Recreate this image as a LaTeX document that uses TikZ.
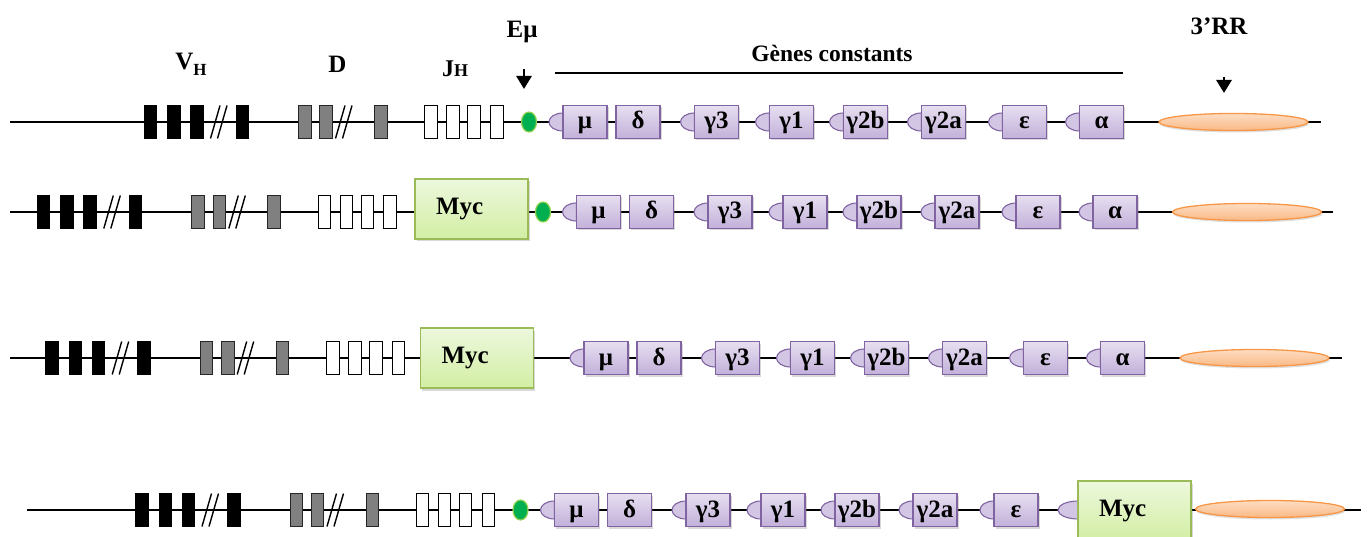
\documentclass[tikz,border=0pt]{standalone}
\usepackage{fontspec}
\setmainfont{Liberation Serif}
\usetikzlibrary{shadows,calc,arrows.meta,shapes.geometric}
\pgfdeclarelayer{bg}
\pgfsetlayers{bg,main}
\definecolor{purp}{HTML}{8064A2}
\definecolor{lavtop}{HTML}{E7DFF1}
\definecolor{lavbot}{HTML}{C2B0D9}
\definecolor{swfill}{HTML}{D3C6E4}
\definecolor{grnb}{HTML}{9BBB59}
\definecolor{grntop}{HTML}{EDF8DD}
\definecolor{grnbot}{HTML}{D2EEA3}
\definecolor{orb}{HTML}{F79646}
\definecolor{ortop}{HTML}{FDDDC2}
\definecolor{orbot}{HTML}{F9B986}
\definecolor{emfill}{HTML}{00B050}
\definecolor{emb}{HTML}{92D050}
\definecolor{grayseg}{HTML}{808080}
\tikzset{
  backbone/.style={line width=1.4pt, black},
  segbase/.style={rectangle, minimum width=12.5pt, minimum height=33pt, inner sep=0pt},
  vseg/.style={segbase, fill=black, draw=black, line width=0.4pt},
  dseg/.style={segbase, fill=grayseg, draw=black!85, line width=0.8pt},
  jseg/.style={segbase, fill=white, draw=black, line width=0.8pt},
  slash/.style={line width=1.4pt, black},
  gene/.style={rectangle, draw=purp, line width=1.3pt, top color=lavtop, bottom color=lavbot,
    minimum width=44pt, minimum height=33pt, inner sep=0pt, text height=16pt, text depth=2pt,
    font=\fontsize{25}{25}\selectfont\bfseries,
    drop shadow={opacity=0.3, shadow xshift=1.5pt, shadow yshift=-2pt}},
  switchreg/.style={draw=purp, line width=1.1pt, fill=swfill},
  myc/.style={rectangle, draw=grnb, line width=1.3pt, top color=grntop, bottom color=grnbot,
    minimum height=60pt, inner ysep=0pt, inner xsep=21pt, text width=71pt, align=left,
    font=\fontsize{25}{25}\selectfont\bfseries,
    drop shadow={opacity=0.3, shadow xshift=1.5pt, shadow yshift=-2.5pt}},
  rrell/.style={ellipse, draw=orb, line width=1.3pt, top color=ortop, bottom color=orbot,
    minimum width=149pt, minimum height=17pt, inner sep=0pt,
    drop shadow={opacity=0.25, shadow xshift=1pt, shadow yshift=-2pt}},
  emu/.style={ellipse, fill=emfill, draw=emb, line width=1.2pt, minimum width=15pt, minimum height=20pt, inner sep=0pt},
  lab/.style={font=\fontsize{25}{25}\selectfont\bfseries, inner sep=0pt, anchor=base},
  darrow/.style={-{Triangle[width=15pt,length=13pt]}, line width=2.8pt},
}
\newcommand\VDJrow[3]{%
 \begin{scope}[xshift=#2pt]
  \node[vseg] (#1v1) at (150,#3) {};
  \node[vseg] (#1v2) at (173.5,#3) {};
  \node[vseg] (#1v3) at (196.5,#3) {};
  \node[vseg] (#1v4) at (242,#3) {};
  \draw[slash] (210.5,#3+16.5) -- (220,#3-16.5) (217.5,#3+16.5) -- (227,#3-16.5);
  \node[dseg] (#1d1) at (304.7,#3) {};
  \node[dseg] (#1d2) at (326,#3) {};
  \draw[slash] (335.5,#3+16.5) -- (345,#3-16.5) (342.5,#3+16.5) -- (352,#3-16.5);
  \node[dseg] (#1d3) at (380.7,#3) {};
  \node[jseg] (#1j1) at (431,#3) {};
  \node[jseg] (#1j2) at (453,#3) {};
  \node[jseg] (#1j3) at (474,#3) {};
  \node[jseg] (#1j4) at (496.7,#3) {};
 \end{scope}}
\newcommand\GeneSw[4]{%
  \begin{pgfonlayer}{bg}
  \draw[switchreg] (#2-22,#3-9) arc[start angle=270,end angle=90,x radius=14,y radius=9] -- cycle;
  \end{pgfonlayer}
  \node[gene] (#1) at (#2,#3) {#4};}
\newcommand\GeneNo[4]{\node[gene] (#1) at (#2,#3) {#4};}
\newcommand\GeneRow[3]{%
 \begin{scope}[xshift=#2pt]
  \GeneSw{#1mu}{585}{#3}{μ}
  \GeneNo{#1de}{638}{#3}{δ}
  \GeneSw{#1gt}{716.5}{#3}{γ3}
  \GeneSw{#1go}{791.5}{#3}{γ1}
  \GeneSw{#1gb}{865.5}{#3}{γ2b}
  \GeneSw{#1ga}{943.5}{#3}{γ2a}
  \GeneSw{#1ep}{1024.5}{#3}{ε}
 \end{scope}}
\begin{document}
\begin{tikzpicture}[x=1pt,y=-1pt]
\useasboundingbox (0,0) rectangle (1368,537);
% ---------- labels
\node[lab] (vh) at (191,70) {V\raisebox{-6pt}{\fontsize{17}{17}\selectfont H}};
\node[lab] (dl) at (337.5,73) {D};
\node[lab] (jh) at (455,77) {{\fontsize{24}{24}\selectfont J}{\fontsize{18}{18}\selectfont H}};
\node[lab] (eml) at (522,37.5) {Eμ};
\node[lab, font=\fontsize{23.5}{23.5}\selectfont\bfseries] (gcl) at (832,62) {Gènes constants};
\node[lab] (rrl) at (1219,35) {3’RR};
\coordinate (gcL) at (555,73);
\coordinate (gcR) at (1123,73);
\draw[line width=1.4pt] (gcL) -- (gcR);
\coordinate (emA) at (524,69);
\coordinate (emB) at (524,89);
\draw[darrow] (emA) -- (emB);
\coordinate (rrA) at (1224,77);
\coordinate (rrB) at (1224,93);
\draw[darrow] (rrA) -- (rrB);
% ---------- row 1
\coordinate (r1s) at (10,122);
\coordinate (r1e) at (1321,122);
\begin{pgfonlayer}{bg}\draw[backbone] (r1s) -- (r1e);\end{pgfonlayer}
\VDJrow{a}{0}{122}
\node[emu] (aem) at (529,122) {};
\GeneRow{a}{0}{122}
\GeneSw{aal}{1101.5}{122}{α}
\node[rrell] (arr) at (1233.5,122) {};
% ---------- row 2
\coordinate (r2s) at (10,212);
\coordinate (r2e) at (1333,212);
\begin{pgfonlayer}{bg}\draw[backbone] (r2s) -- (r2e);\end{pgfonlayer}
\VDJrow{b}{-106.7}{212}
\node[myc] (bmyc) at (471.5,209) {Myc};
\node[emu] (bem) at (543,212) {};
\GeneRow{b}{13.5}{212}
\GeneSw{bal}{1115}{212}{α}
\node[rrell] (brr) at (1247,212) {};
% ---------- row 3
\coordinate (r3s) at (10,358);
\coordinate (r3e) at (1342,358);
\begin{pgfonlayer}{bg}\draw[backbone] (r3s) -- (r3e);\end{pgfonlayer}
\VDJrow{c}{-98.3}{358}
\node[myc] (cmyc) at (477,358) {Myc};
\GeneRow{c}{21}{358}
\GeneSw{cal}{1122.5}{358}{α}
\node[rrell] (crr) at (1254.5,358) {};
% ---------- row 4
\coordinate (r4s) at (27,510);
\coordinate (r4e) at (1361,510);
\begin{pgfonlayer}{bg}\draw[backbone] (r4s) -- (r4e);\end{pgfonlayer}
\VDJrow{d}{-8.5}{510}
\node[emu] (dem) at (520.5,510) {};
\GeneRow{d}{-8.5}{510}
\begin{pgfonlayer}{bg}
\draw[switchreg] (1078,501) arc[start angle=270,end angle=90,x radius=20,y radius=9] -- cycle;
\end{pgfonlayer}
\node[myc] (dmyc) at (1134.5,511) {Myc};
\node[rrell] (drr) at (1270,509) {};
\end{tikzpicture}
\end{document}
